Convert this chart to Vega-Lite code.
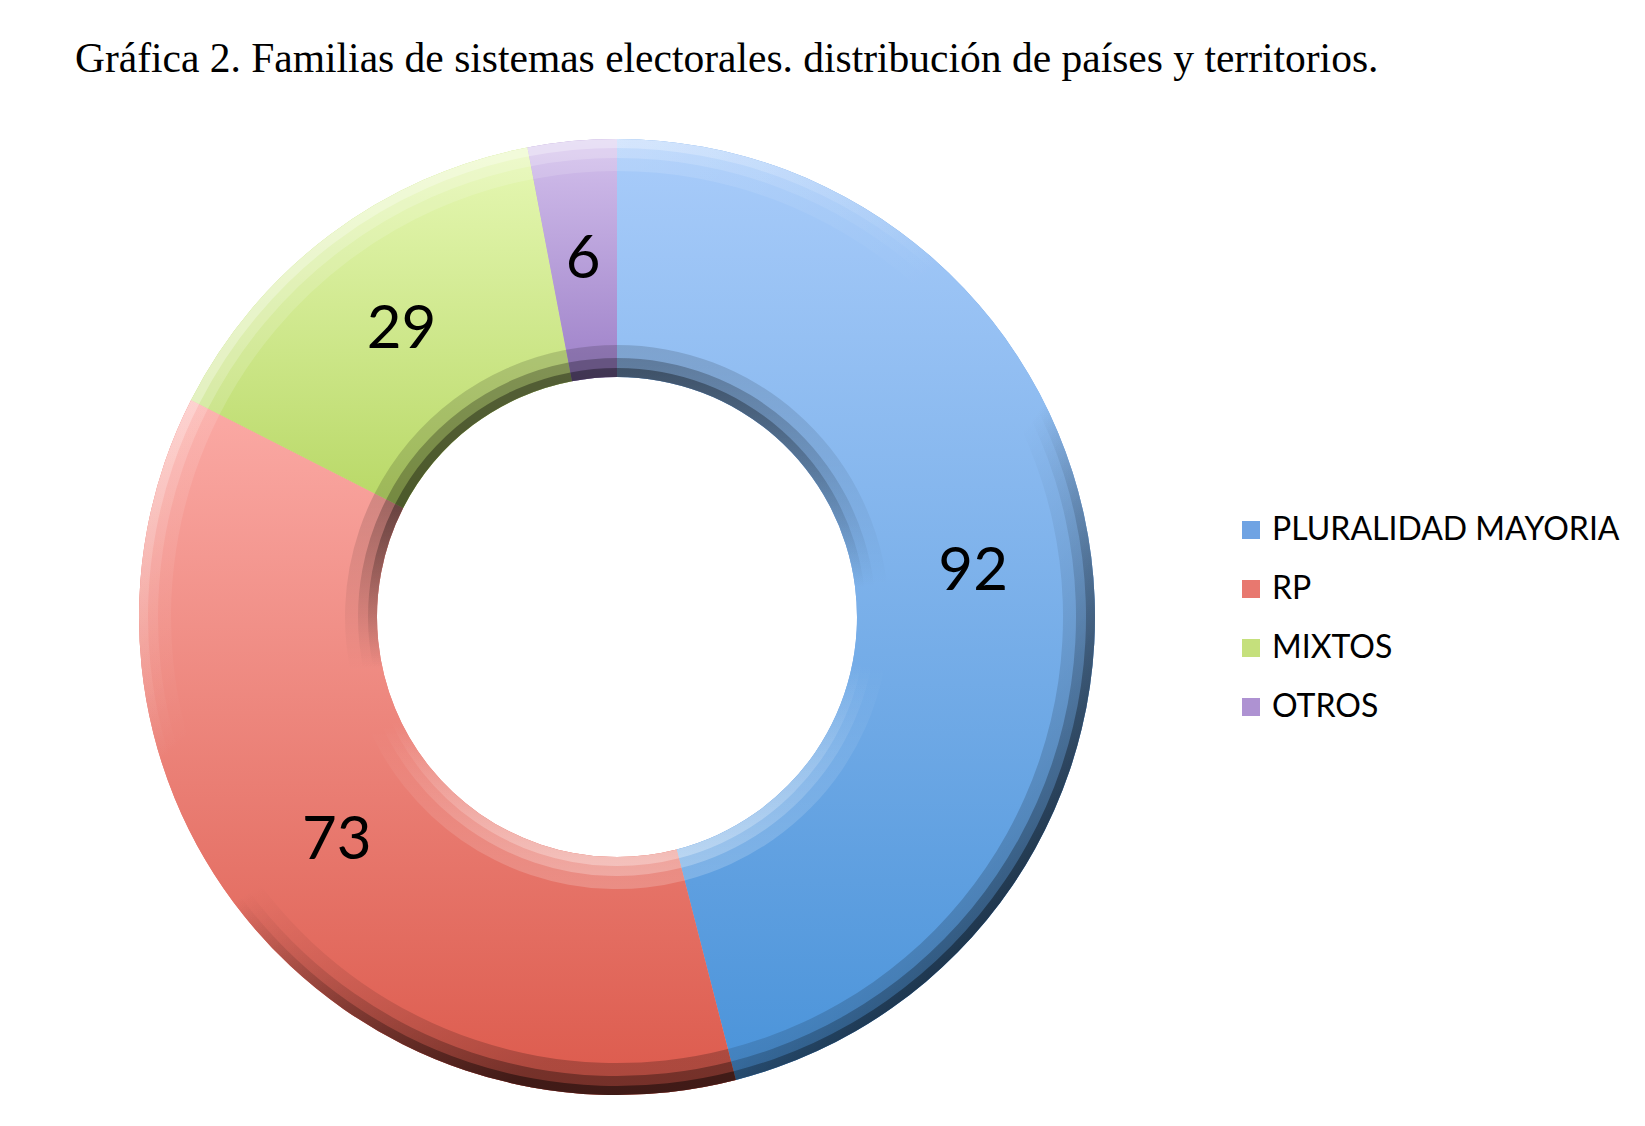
{
  "$schema": "https://vega.github.io/schema/vega-lite/v6.json",
  "autosize": "none",
  "width": 1234,
  "height": 1000,
  "padding": {"left": 0, "top": 117, "right": 411, "bottom": 9},
  "background": "white",
  "title": {
    "text": "Gráfica 2. Familias de sistemas electorales. distribución de países y territorios.",
    "anchor": "start",
    "dx": 75,
    "offset": 4,
    "baseline": "alphabetic",
    "font": "Liberation Serif",
    "fontSize": 41.5,
    "fontWeight": "normal",
    "color": "black"
  },
  "data": {
    "values": [
      {"sistema": "PLURALIDAD MAYORIA", "paises": 92, "orden": 1},
      {"sistema": "RP", "paises": 73, "orden": 2},
      {"sistema": "MIXTOS", "paises": 29, "orden": 3},
      {"sistema": "OTROS", "paises": 6, "orden": 4}
    ]
  },
  "encoding": {
    "theta": {"field": "paises", "type": "quantitative", "stack": true},
    "order": {"field": "orden", "type": "quantitative"}
  },
  "layer": [
    {
      "mark": {"type": "arc", "radius": 478, "radius2": 240},
      "encoding": {
        "color": {
          "field": "sistema",
          "type": "nominal",
          "sort": ["PLURALIDAD MAYORIA", "RP", "MIXTOS", "OTROS"],
          "scale": {
            "domain": ["PLURALIDAD MAYORIA", "RP", "MIXTOS", "OTROS"],
            "range": ["#6fa3e3", "#e8786f", "#c5e07c", "#ae92d2"]
          },
          "legend": {
            "title": null,
            "orient": "none",
            "legendX": 1235,
            "legendY": 397,
            "symbolType": "square",
            "symbolSize": 324,
            "symbolStrokeWidth": 0,
            "symbolOpacity": 1,
            "labelFont": "Lato",
            "labelFontSize": 32,
            "labelColor": "black",
            "labelOffset": 5,
            "rowPadding": 27,
            "labelLimit": 500
          }
        }
      }
    },
    {
      "mark": {"type": "arc", "radius": 478, "radius2": 240},
      "encoding": {
        "fill": {
          "condition": [
            {"test": "datum.sistema == 'RP'", "value": {"gradient": "linear", "x1": 0, "y1": 0, "x2": 0, "y2": 1, "stops": [{"offset": 0, "color": "#fbaaa5"}, {"offset": 1, "color": "#dc5a4c"}]}},
            {"test": "datum.sistema == 'MIXTOS'", "value": {"gradient": "linear", "x1": 0, "y1": 0, "x2": 0, "y2": 1, "stops": [{"offset": 0, "color": "#e6f8b4"}, {"offset": 1, "color": "#b8d866"}]}},
            {"test": "datum.sistema == 'OTROS'", "value": {"gradient": "linear", "x1": 0, "y1": 0, "x2": 0, "y2": 1, "stops": [{"offset": 0, "color": "#d3c0ec"}, {"offset": 1, "color": "#9d80c8"}]}}
          ],
          "value": {"gradient": "linear", "x1": 0, "y1": 0, "x2": 0, "y2": 1, "stops": [{"offset": 0, "color": "#a9ccfa"}, {"offset": 1, "color": "#4a93d9"}]}
        }
      }
    },
    {
      "mark": {"type": "arc", "radius": 478, "radius2": 446},
      "encoding": {
        "fill": {
          "condition": [
            {"test": "datum.sistema == 'MIXTOS' || datum.sistema == 'OTROS'", "value": "rgba(255,255,255,0.15)"}
          ],
          "value": {"gradient": "linear", "x1": 0, "y1": 0, "x2": 0.6, "y2": 1, "stops": [
            {"offset": 0, "color": "rgba(255,255,255,0.15)"},
            {"offset": 0.4, "color": "rgba(255,255,255,0)"},
            {"offset": 0.6, "color": "rgba(0,0,0,0)"},
            {"offset": 1, "color": "rgba(0,0,0,0.22)"}
          ]}
        }
      }
    },
    {
      "mark": {"type": "arc", "radius": 478, "radius2": 459},
      "encoding": {
        "fill": {
          "condition": [
            {"test": "datum.sistema == 'MIXTOS' || datum.sistema == 'OTROS'", "value": "rgba(255,255,255,0.2)"}
          ],
          "value": {"gradient": "linear", "x1": 0, "y1": 0, "x2": 0.6, "y2": 1, "stops": [
            {"offset": 0, "color": "rgba(255,255,255,0.2)"},
            {"offset": 0.4, "color": "rgba(255,255,255,0)"},
            {"offset": 0.6, "color": "rgba(0,0,0,0)"},
            {"offset": 1, "color": "rgba(0,0,0,0.32)"}
          ]}
        }
      }
    },
    {
      "mark": {"type": "arc", "radius": 478, "radius2": 469},
      "encoding": {
        "fill": {
          "condition": [
            {"test": "datum.sistema == 'MIXTOS' || datum.sistema == 'OTROS'", "value": "rgba(255,255,255,0.3)"}
          ],
          "value": {"gradient": "linear", "x1": 0, "y1": 0, "x2": 0.6, "y2": 1, "stops": [
            {"offset": 0, "color": "rgba(255,255,255,0.3)"},
            {"offset": 0.4, "color": "rgba(255,255,255,0)"},
            {"offset": 0.6, "color": "rgba(0,0,0,0)"},
            {"offset": 1, "color": "rgba(0,0,0,0.45)"}
          ]}
        }
      }
    },
    {
      "mark": {"type": "arc", "radius": 272, "radius2": 240},
      "encoding": {
        "fill": {
          "condition": [
            {"test": "datum.sistema == 'MIXTOS' || datum.sistema == 'OTROS'", "value": "rgba(0,0,0,0.15)"}
          ],
          "value": {"gradient": "linear", "x1": 0, "y1": 0, "x2": 0, "y2": 1, "stops": [
            {"offset": 0, "color": "rgba(0,0,0,0.15)"},
            {"offset": 0.45, "color": "rgba(0,0,0,0)"},
            {"offset": 0.6, "color": "rgba(255,255,255,0)"},
            {"offset": 1, "color": "rgba(255,255,255,0.2)"}
          ]}
        }
      }
    },
    {
      "mark": {"type": "arc", "radius": 259, "radius2": 240},
      "encoding": {
        "fill": {
          "condition": [
            {"test": "datum.sistema == 'MIXTOS' || datum.sistema == 'OTROS'", "value": "rgba(0,0,0,0.25)"}
          ],
          "value": {"gradient": "linear", "x1": 0, "y1": 0, "x2": 0, "y2": 1, "stops": [
            {"offset": 0, "color": "rgba(0,0,0,0.25)"},
            {"offset": 0.45, "color": "rgba(0,0,0,0)"},
            {"offset": 0.6, "color": "rgba(255,255,255,0)"},
            {"offset": 1, "color": "rgba(255,255,255,0.25)"}
          ]}
        }
      }
    },
    {
      "mark": {"type": "arc", "radius": 249, "radius2": 240},
      "encoding": {
        "fill": {
          "condition": [
            {"test": "datum.sistema == 'MIXTOS' || datum.sistema == 'OTROS'", "value": "rgba(0,0,0,0.35)"}
          ],
          "value": {"gradient": "linear", "x1": 0, "y1": 0, "x2": 0, "y2": 1, "stops": [
            {"offset": 0, "color": "rgba(0,0,0,0.35)"},
            {"offset": 0.45, "color": "rgba(0,0,0,0)"},
            {"offset": 0.6, "color": "rgba(255,255,255,0)"},
            {"offset": 1, "color": "rgba(255,255,255,0.3)"}
          ]}
        }
      }
    },
    {
      "mark": {"type": "text", "radius": 359, "font": "Lato", "fontSize": 60, "color": "black"},
      "encoding": {
        "text": {"field": "paises", "type": "quantitative"}
      }
    }
  ]
}
